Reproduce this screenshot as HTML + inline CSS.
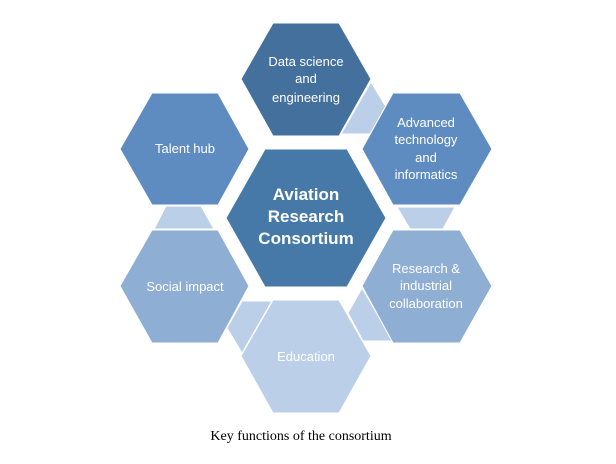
<!DOCTYPE html>
<html><head><meta charset="utf-8"><style>
body{margin:0;background:#fff;width:616px;height:459px;overflow:hidden}
svg text{font-family:"Liberation Sans",sans-serif;fill:#fff;text-anchor:middle}
</style></head><body>
<svg width="616" height="459" viewBox="0 0 616 459">
<g fill="#bccfe8" stroke="#fff" stroke-width="1">
<polygon points="371,82 386,107 370,134 341,134"/>
<polygon points="166,206 201,206 214,229 154,229"/>
<polygon points="397,207 455,207 443,229 410,229"/>
<polygon points="242,301 272,301 242,353 227,328"/>
<polygon points="362,288 393,341 363,341 348,313"/>
</g>
<g stroke="#fff" stroke-width="1">
<polygon fill="#44709e" points="241,79 273,23 339,23 371,79 339,136 273,136"/>
<polygon fill="#5e8cc0" points="120,149 152,93 218,93 249,149 218,205 152,205"/>
<polygon fill="#5e8cc0" points="362,149 393,93 460,93 492,149 460,205 393,205"/>
<polygon fill="#8eaed4" points="120,286 152,230 218,230 249,286 218,343 152,343"/>
<polygon fill="#8eaed4" points="362,286 393,230 460,230 492,286 460,343 393,343"/>
<polygon fill="#bccfe8" points="241,356 273,300 339,300 371,356 339,413 273,413"/>
<polygon fill="#4779a8" points="226,218 265,149 347,149 386,218 347,287 265,287"/>
</g>
<g font-size="13">
<text x="306" y="66">Data science</text><text x="306" y="83">and</text><text x="306" y="102">engineering</text>
<text x="185" y="153">Talent hub</text>
<text x="426" y="127">Advanced</text><text x="426" y="144">technology</text><text x="426" y="162">and</text><text x="426" y="179">informatics</text>
<text x="185" y="291">Social impact</text>
<text x="426" y="273">Research &amp;</text><text x="426" y="290">industrial</text><text x="426" y="308">collaboration</text>
<text x="306" y="361">Education</text>
</g>
<g font-size="17" font-weight="bold">
<text x="306" y="200">Aviation</text><text x="306" y="222">Research</text><text x="306" y="244">Consortium</text>
</g>
<text x="301" y="440" style="font-family:'Liberation Serif',serif;fill:#000;font-size:14px">Key functions of the consortium</text>
</svg>
</body></html>
